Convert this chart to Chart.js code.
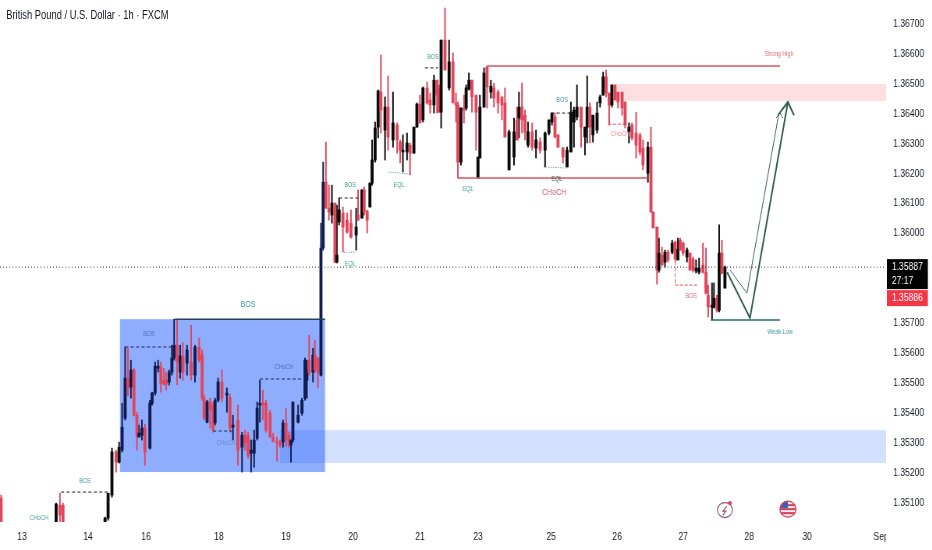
<!DOCTYPE html>
<html>
<head>
<meta charset="utf-8">
<title>GBPUSD 1h</title>
<script src="https://cdn.jsdelivr.net/npm/chart.js@4/dist/chart.umd.min.js"></script>
<style>
  html, body { margin: 0; background: #fff; overflow: hidden; width: 932px; height: 550px; }
  /* the source screenshot is squeezed sideways, so the whole drawing is too */
  #wrap { position: relative; width: 1195px; height: 550px; transform: scaleX(0.78); transform-origin: left top; }
  #chart { display: block; }
  #title { position: absolute; left: 8px; top: 8px; font: 12px "Liberation Sans", sans-serif; color: #131722; }
</style>
</head>
<body>
<div id="wrap">
  <div id="title">British Pound / U.S. Dollar · 1h · FXCM</div>
  <canvas id="chart" width="1195" height="550"></canvas>
</div>
<script>
// bar time in hours from the left edge of the chart
const times = [0.4,20.4,21.8,22.9,38.2,39.3,40.7,42.2,43.3,44.4,45.5,46.5,47.6,48.7,49.8,50.5,51.6,52.7,54.5,55.3,56.4,57.5,58.5,59.6,60.4,61.5,62.5,63.3,64.4,65.5,66.5,68,69.5,70.9,72.4,73.5,74.2,75.3,76.4,77.5,78.2,79.3,80.7,82.5,83.6,84.7,86.5,88,89.1,90.2,91.3,92.4,93.5,94.5,95.6,96.7,98.2,99.3,100.7,101.8,102.9,104,105.1,105.8,106.5,108.4,109.8,110.9,111.6,112.4,113.8,114.5,115.6,116.7,117.5,118.5,119.6,120.7,121.8,122.5,123.3,124.7,126.2,127.6,129.5,130.2,131.6,132.4,133.5,134.5,135.3,136.4,137.5,138.5,140,141.1,142.9,144.4,145.5,146.5,148,149.1,150.5,151.6,152.7,153.8,155.3,156.4,157.8,158.9,159.6,160.4,161.8,163.3,164.7,165.8,166.5,167.6,168.7,169.5,170.5,171.6,173.1,173.8,174.5,176,177.1,178.5,179.6,181.1,182.5,183.6,185.1,186.9,188,188.7,189.8,190.9,192,193.5,194.9,196.4,198.2,199.6,200.7,201.8,202.9,204.7,206.2,207.6,208.7,209.8,211.3,212.7,213.5,214.5,215.6,217.1,218.2,219.3,220.4,221.5,222.5,223.6,224.7,226.2,227.3,228.7,229.8,231.3,232.7,233.8,235.6,236.7,237.5,238.9,239.6,240.7,241.8,242.9,244.4,245.5,246.5,247.3,248.4,249.8,250.9,252,253.1,254.2,255.6,256.7,257.5,258.9,259.6,260.7,261.5,262.5,263.6];

const opens = [1.35115,1.35035,1.35091,1.35091,1.35024,1.35048,1.35125,1.35269,1.35235,1.35275,1.35382,1.35516,1.35486,1.35543,1.35392,1.35319,1.35325,1.35349,1.35282,1.35432,1.35466,1.35549,1.35553,1.35509,1.35509,1.35503,1.35536,1.35583,1.35626,1.35536,1.35590,1.35566,1.35570,1.35526,1.35620,1.35593,1.35449,1.35369,1.35436,1.35426,1.35366,1.35442,1.35503,1.35459,1.35452,1.35352,1.35376,1.35285,1.35325,1.35325,1.35265,1.35265,1.35315,1.35426,1.35432,1.35432,1.35399,1.35319,1.35305,1.35299,1.35302,1.35366,1.35325,1.35292,1.35309,1.35369,1.35399,1.35449,1.35509,1.35576,1.35536,1.35593,1.35583,1.35526,1.35951,1.36171,1.36084,1.36061,1.36101,1.35904,1.36038,1.36068,1.36044,1.36034,1.35994,1.36061,1.36051,1.36145,1.36074,1.36088,1.36168,1.36245,1.36355,1.36472,1.36345,1.36422,1.36312,1.36362,1.36305,1.36272,1.36272,1.36295,1.36268,1.36355,1.36432,1.36379,1.36486,1.36446,1.36429,1.36512,1.36486,1.36405,1.36646,1.36486,1.36573,1.36436,1.36429,1.36238,1.36419,1.36419,1.36482,1.36512,1.36462,1.36185,1.36252,1.36422,1.36556,1.36472,1.36486,1.36472,1.36456,1.36436,1.36212,1.36255,1.36379,1.36385,1.36422,1.36395,1.36295,1.36339,1.36285,1.36305,1.36278,1.36335,1.36372,1.36389,1.36329,1.36285,1.36222,1.36272,1.36372,1.36389,1.36422,1.36322,1.36355,1.36422,1.36329,1.36345,1.36436,1.36462,1.36523,1.36469,1.36429,1.36496,1.36472,1.36472,1.36439,1.36339,1.36362,1.36335,1.36329,1.36285,1.36201,1.36288,1.36071,1.36021,1.35877,1.35927,1.35904,1.35937,1.35937,1.35971,1.35911,1.35977,1.35967,1.35921,1.35934,1.35914,1.35874,1.35870,1.35894,1.35870,1.35793,1.35753,1.35753,1.35783,1.35743,1.35934,1.35817];

const closes = [1.35035,1.35095,1.35058,1.35035,1.35048,1.35131,1.35269,1.35235,1.35285,1.35352,1.35516,1.35483,1.35543,1.35392,1.35325,1.35332,1.35349,1.35269,1.35432,1.35466,1.35556,1.35556,1.35499,1.35496,1.35496,1.35536,1.35583,1.35626,1.35570,1.35590,1.35536,1.35610,1.35526,1.35620,1.35576,1.35449,1.35382,1.35436,1.35409,1.35342,1.35442,1.35503,1.35449,1.35466,1.35349,1.35359,1.35275,1.35325,1.35299,1.35258,1.35275,1.35309,1.35416,1.35432,1.35426,1.35342,1.35319,1.35305,1.35299,1.35292,1.35366,1.35309,1.35292,1.35309,1.35436,1.35392,1.35442,1.35576,1.35543,1.35533,1.35593,1.35543,1.35533,1.35951,1.36171,1.36084,1.36071,1.36101,1.35904,1.35927,1.36078,1.36021,1.36004,1.35987,1.36021,1.36044,1.36145,1.36071,1.36044,1.36168,1.36245,1.36352,1.36476,1.36412,1.36422,1.36322,1.36369,1.36312,1.36278,1.36278,1.36302,1.36268,1.36355,1.36432,1.36369,1.36486,1.36436,1.36429,1.36512,1.36462,1.36405,1.36646,1.36546,1.36573,1.36436,1.36429,1.36238,1.36419,1.36412,1.36486,1.36512,1.36456,1.36405,1.36255,1.36422,1.36536,1.36489,1.36492,1.36452,1.36436,1.36429,1.36322,1.36339,1.36339,1.36312,1.36422,1.36379,1.36339,1.36339,1.36288,1.36312,1.36278,1.36335,1.36379,1.36402,1.36322,1.36288,1.36255,1.36278,1.36405,1.36412,1.36422,1.36355,1.36355,1.36422,1.36355,1.36395,1.36402,1.36456,1.36523,1.36469,1.36429,1.36496,1.36446,1.36439,1.36419,1.36362,1.36355,1.36319,1.36295,1.36272,1.36228,1.36288,1.36071,1.36018,1.35877,1.35934,1.35894,1.35937,1.35911,1.35967,1.35914,1.35947,1.35944,1.35934,1.35944,1.35877,1.35877,1.35884,1.35884,1.35870,1.35800,1.35753,1.35760,1.35783,1.35743,1.35934,1.35867,1.35887];

const highs = [1.35125,1.35098,1.35131,1.35098,1.35051,1.35131,1.35282,1.35275,1.35302,1.35432,1.35620,1.35616,1.35576,1.35549,1.35402,1.35359,1.35376,1.35362,1.35442,1.35469,1.35570,1.35576,1.35570,1.35549,1.35536,1.35543,1.35626,1.35713,1.35713,1.35626,1.35636,1.35626,1.35693,1.35626,1.35650,1.35610,1.35459,1.35442,1.35449,1.35436,1.35449,1.35516,1.35543,1.35483,1.35462,1.35392,1.35426,1.35335,1.35342,1.35335,1.35309,1.35342,1.35436,1.35509,1.35476,1.35442,1.35409,1.35332,1.35319,1.35309,1.35376,1.35416,1.35335,1.35309,1.35436,1.35426,1.35449,1.35583,1.35576,1.35660,1.35616,1.35643,1.35586,1.36034,1.36238,1.36305,1.36161,1.36161,1.36101,1.36094,1.36118,1.36088,1.36068,1.36078,1.36084,1.36145,1.36145,1.36155,1.36078,1.36168,1.36312,1.36372,1.36479,1.36596,1.36456,1.36526,1.36472,1.36369,1.36312,1.36329,1.36335,1.36302,1.36355,1.36436,1.36462,1.36489,1.36506,1.36469,1.36529,1.36512,1.36496,1.36646,1.36753,1.36646,1.36603,1.36469,1.36439,1.36419,1.36462,1.36496,1.36536,1.36512,1.36462,1.36255,1.36462,1.36553,1.36559,1.36512,1.36502,1.36479,1.36456,1.36486,1.36345,1.36385,1.36422,1.36472,1.36502,1.36412,1.36372,1.36369,1.36345,1.36319,1.36339,1.36379,1.36402,1.36402,1.36329,1.36288,1.36288,1.36439,1.36422,1.36496,1.36422,1.36355,1.36526,1.36436,1.36395,1.36439,1.36462,1.36539,1.36546,1.36469,1.36496,1.36496,1.36472,1.36472,1.36439,1.36369,1.36369,1.36405,1.36335,1.36312,1.36305,1.36355,1.36071,1.36021,1.35984,1.35954,1.35944,1.35944,1.35977,1.35974,1.35984,1.35984,1.35971,1.35951,1.35934,1.35921,1.35911,1.35917,1.35967,1.35951,1.35827,1.35834,1.35834,1.35793,1.36028,1.35977,1.35891];

const lows = [1.35024,1.35024,1.35024,1.35024,1.35024,1.35041,1.35118,1.35202,1.35232,1.35269,1.35376,1.35456,1.35449,1.35389,1.35275,1.35319,1.35309,1.35225,1.35279,1.35426,1.35459,1.35536,1.35469,1.35493,1.35476,1.35493,1.35526,1.35576,1.35493,1.35516,1.35509,1.35526,1.35509,1.35503,1.35570,1.35442,1.35376,1.35366,1.35349,1.35335,1.35359,1.35436,1.35436,1.35402,1.35335,1.35309,1.35225,1.35202,1.35275,1.35248,1.35202,1.35218,1.35309,1.35369,1.35376,1.35335,1.35319,1.35302,1.35238,1.35285,1.35285,1.35289,1.35285,1.35235,1.35302,1.35366,1.35392,1.35442,1.35449,1.35526,1.35503,1.35536,1.35483,1.35523,1.35944,1.36084,1.36044,1.36034,1.35901,1.35901,1.36028,1.35937,1.36001,1.35984,1.35944,1.36044,1.36051,1.36061,1.36001,1.36088,1.36161,1.36238,1.36319,1.36335,1.36245,1.36278,1.36288,1.36268,1.36235,1.36205,1.36245,1.36195,1.36268,1.36355,1.36369,1.36372,1.36432,1.36402,1.36402,1.36402,1.36405,1.36352,1.36546,1.36479,1.36436,1.36372,1.36185,1.36228,1.36369,1.36412,1.36479,1.36405,1.36278,1.36185,1.36252,1.36422,1.36419,1.36452,1.36422,1.36402,1.36379,1.36322,1.36212,1.36228,1.36312,1.36319,1.36335,1.36312,1.36288,1.36278,1.36252,1.36268,1.36222,1.36329,1.36362,1.36319,1.36288,1.36235,1.36222,1.36272,1.36288,1.36379,1.36288,1.36262,1.36302,1.36302,1.36305,1.36335,1.36422,1.36462,1.36456,1.36362,1.36422,1.36446,1.36419,1.36395,1.36352,1.36302,1.36312,1.36252,1.36262,1.36212,1.36171,1.36071,1.36018,1.35830,1.35870,1.35894,1.35887,1.35904,1.35931,1.35907,1.35911,1.35944,1.35927,1.35904,1.35877,1.35870,1.35867,1.35864,1.35867,1.35797,1.35720,1.35710,1.35750,1.35737,1.35737,1.35864,1.35817];

const xTickPositions = [8,32,53.1,79.6,104,128.4,152.7,173.8,200.4,224.4,248.4,272.4,293.5,320.4];
const xTickLabels = ['13','14','16','18','19','20','21','23','25','26','27','28','30','Sep'];
const priceTicks = [1.351,1.352,1.353,1.354,1.355,1.356,1.357,1.36,1.361,1.362,1.363,1.364,1.365,1.366,1.367];

const lastPrice = 1.35887;
const bidPrice = 1.35886;
const countdown = '27:17';

// drawn analysis, in [time, price] units
const zones = [
  { t1: 43.6, t2: 118.2, top: 1.35713, bottom: 1.35202, color: 'rgba(41,98,255,0.52)' },
  { t1: 101.8, t2: 322.2, top: 1.35342, bottom: 1.35232, color: 'rgba(41,98,255,0.2)' },
  { t1: 223.3, t2: 322.2, top: 1.36499, bottom: 1.36442, color: 'rgba(242,54,69,0.16)' }
];

const segments = [
  // structure lines
  { pts: [[63.6,1.35713],[118.2,1.35713]], color: '#26405f', width: 1.5 },
  { pts: [[177.1,1.36559],[283.6,1.36559]], color: '#d9545f', width: 1.5 },
  { pts: [[166.5,1.36185],[235.6,1.36185]], color: '#d9545f', width: 1.5 },
  { pts: [[258.5,1.3571],[283.6,1.3571]], color: '#1f6f6a', width: 1.5 },
  // BOS / CHoCH dashes
  { pts: [[22.2,1.35135],[39.3,1.35135]], color: '#222', width: 1, dash: [4,3] },
  { pts: [[45.5,1.3562],[62.5,1.3562]], color: '#1d2b55', width: 1, dash: [4,3] },
  { pts: [[77.5,1.35339],[84.4,1.35339]], color: '#1d2b55', width: 1, dash: [4,3] },
  { pts: [[94.5,1.35513],[110.5,1.35513]], color: '#1d2b55', width: 1, dash: [4,3] },
  { pts: [[123.3,1.36118],[130.2,1.36118]], color: '#222', width: 1, dash: [4,3] },
  { pts: [[154.5,1.36553],[159.3,1.36553]], color: '#222', width: 1, dash: [4,3] },
  { pts: [[200.4,1.36402],[207.6,1.36402]], color: '#222', width: 1, dash: [4,3] },
  { pts: [[221.5,1.36469],[221.5,1.36365],[226.9,1.36365]], color: '#d9545f', width: 1, dash: [4,2] },
  { pts: [[245.5,1.35927],[245.5,1.35827],[253.5,1.35827]], color: '#d9545f', width: 1, dash: [4,2] },
  // EQL dots
  { pts: [[125.1,1.35937],[129.5,1.35937]], color: '#3b6e6a', width: 1, dash: [1,2] },
  { pts: [[141.1,1.36205],[149.1,1.36198]], color: '#3b6e6a', width: 1, dash: [1,2] },
  { pts: [[197.8,1.36222],[206.2,1.36218]], color: '#3b6e6a', width: 1, dash: [1,2] },
  // projected path
  { pts: [[264.4,1.3587],[272.7,1.35717],[286.5,1.36439]], color: '#2e5d50', width: 2 },
  { pts: [[282.9,1.36395],[286.5,1.36439],[288.7,1.36395]], color: '#2e5d50', width: 2 },
  { pts: [[265.5,1.35877],[271.6,1.358],[283.1,1.36395]], color: '#2e5d50', width: 1 },
  { pts: [[282.2,1.36385],[283.6,1.36402],[284.7,1.36385]], color: '#2e5d50', width: 1 }
];

const notes = [
  { text: 'CHoCH', t: 14.2, p: 1.35048, color: '#3b9b94', size: 7 },
  { text: 'BOS', t: 30.9, p: 1.35172, color: '#3b9b94', size: 7 },
  { text: 'BOS', t: 90.2, p: 1.35763, color: '#3b9b94', size: 9 },
  { text: 'BOS', t: 54.2, p: 1.35663, color: '#4d6fb0', size: 7 },
  { text: 'CHoCH', t: 82.2, p: 1.35299, color: '#6a86c8', size: 7 },
  { text: 'CHoCH', t: 103.3, p: 1.35553, color: '#4d6fb0', size: 7 },
  { text: 'BOS', t: 127.3, p: 1.36161, color: '#3b9b94', size: 7 },
  { text: 'EQL', t: 127.3, p: 1.35897, color: '#3b9b94', size: 7 },
  { text: 'EQL', t: 145.1, p: 1.36161, color: '#3b9b94', size: 7 },
  { text: 'BOS', t: 157.5, p: 1.36589, color: '#3b9b94', size: 7 },
  { text: 'EQL', t: 170.2, p: 1.36148, color: '#3b9b94', size: 7 },
  { text: 'EQL', t: 202.5, p: 1.36181, color: '#2d5f5c', size: 7 },
  { text: 'BOS', t: 204.4, p: 1.36446, color: '#3b9b94', size: 7 },
  { text: 'CHoCH', t: 201.5, p: 1.36135, color: '#d9545f', size: 9 },
  { text: 'CHoCH', t: 225.5, p: 1.36332, color: '#e88a92', size: 7 },
  { text: 'BOS', t: 251.3, p: 1.3579, color: '#e06a75', size: 7 },
  { text: 'Strong High', t: 283.3, p: 1.36599, color: '#e06a75', size: 7 },
  { text: 'Weak Low', t: 283.6, p: 1.3567, color: '#3b9b94', size: 7 }
];

const squeeze = 0.78;
const upColor = '#0a0a0a';
const upColorOnZone = '#101c50';
const downColor = '#e2455a';
const barColors = closes.map((c, i) => {
  if (c < opens[i]) return downColor;
  return times[i] >= zones[0].t1 && times[i] <= zones[0].t2 ? upColorOnZone : upColor;
});
const labelFont = '"Liberation Sans", sans-serif';

function circle(ctx, cx, cy, r) {
  ctx.beginPath();
  ctx.ellipse(cx, cy, r / squeeze, r, 0, 0, Math.PI * 2);
}

// zones under the candles; lines, labels and price tags on top of them
const drawingsPlugin = {
  id: 'drawings',
  beforeDatasetsDraw(chart) {
    const { ctx, scales: { x, y } } = chart;
    ctx.save();
    zones.forEach(z => {
      ctx.fillStyle = z.color;
      const x1 = x.getPixelForValue(z.t1);
      const y1 = y.getPixelForValue(z.top);
      ctx.fillRect(x1, y1, x.getPixelForValue(z.t2) - x1, y.getPixelForValue(z.bottom) - y1);
    });
    ctx.restore();
  },
  afterDatasetsDraw(chart) {
    const { ctx, chartArea, scales: { x, y } } = chart;
    ctx.save();
    ctx.beginPath();
    ctx.rect(chartArea.left, chartArea.top, chartArea.width, chartArea.height);
    ctx.clip();

    // last price dotted line
    const lastY = y.getPixelForValue(lastPrice);
    ctx.strokeStyle = '#131722';
    ctx.lineWidth = 1;
    ctx.setLineDash([1, 3]);
    ctx.beginPath();
    ctx.moveTo(chartArea.left, lastY);
    ctx.lineTo(chartArea.right, lastY);
    ctx.stroke();

    segments.forEach(s => {
      ctx.strokeStyle = s.color;
      ctx.lineWidth = s.width;
      ctx.setLineDash(s.dash || []);
      ctx.beginPath();
      s.pts.forEach((pt, i) => {
        const px = x.getPixelForValue(pt[0]);
        const py = y.getPixelForValue(pt[1]);
        if (i === 0) ctx.moveTo(px, py); else ctx.lineTo(px, py);
      });
      ctx.stroke();
    });
    ctx.setLineDash([]);

    ctx.textAlign = 'center';
    ctx.textBaseline = 'middle';
    notes.forEach(n => {
      ctx.fillStyle = n.color;
      ctx.font = n.size + 'px ' + labelFont;
      ctx.fillText(n.text, x.getPixelForValue(n.t), y.getPixelForValue(n.p));
    });

    // event icons near the time axis
    const boltX = x.getPixelForValue(263.6);
    const boltY = y.getPixelForValue(1.35075);
    const sx = 1 / squeeze;
    ctx.strokeStyle = '#8a5a78';
    ctx.lineWidth = 1.2;
    circle(ctx, boltX, boltY, 7.5);
    ctx.stroke();
    ctx.beginPath();
    ctx.moveTo(boltX + 2 * sx, boltY - 4);
    ctx.lineTo(boltX - 2 * sx, boltY + 1);
    ctx.lineTo(boltX + 1 * sx, boltY + 1);
    ctx.lineTo(boltX - 2 * sx, boltY + 5);
    ctx.stroke();
    ctx.fillStyle = '#e2455a';
    circle(ctx, boltX + 5 * sx, boltY - 7, 2);
    ctx.fill();

    const flagX = x.getPixelForValue(286.5);
    const flagY = y.getPixelForValue(1.35078);
    ctx.fillStyle = '#e8eef8';
    circle(ctx, flagX, flagY, 8);
    ctx.fill();
    ctx.save();
    ctx.clip();
    ctx.fillStyle = '#d9404f';
    [-5, -1, 3].forEach(dy => ctx.fillRect(flagX - 8 * sx, flagY + dy, 16 * sx, 2));
    ctx.fillStyle = '#3c62b8';
    ctx.fillRect(flagX - 8 * sx, flagY - 8, 8 * sx, 7);
    ctx.restore();
    ctx.strokeStyle = '#d9404f';
    ctx.lineWidth = 1.2;
    circle(ctx, flagX, flagY, 8);
    ctx.stroke();
    ctx.restore();

    // price tags on the axis
    ctx.save();
    const tagX = chartArea.right + 1;
    ctx.fillStyle = '#000';
    ctx.fillRect(tagX, lastY - 8, 41 * sx, 30);
    ctx.fillStyle = '#f23645';
    ctx.fillRect(tagX, lastY + 23, 41 * sx, 16);
    ctx.fillStyle = '#fff';
    ctx.font = '11px ' + labelFont;
    ctx.textAlign = 'left';
    ctx.textBaseline = 'middle';
    ctx.fillText(lastPrice.toFixed(5), tagX + 5 * sx, lastY);
    ctx.fillText(countdown, tagX + 5 * sx, lastY + 14);
    ctx.fillText(bidPrice.toFixed(5), tagX + 5 * sx, lastY + 31);
    ctx.restore();
  },
  afterDraw(chart) {
    // the Sep label is cut off by the price axis
    const { ctx, chartArea } = chart;
    ctx.fillStyle = '#fff';
    ctx.fillRect(chartArea.right, chartArea.bottom, chart.width - chartArea.right, chart.height - chartArea.bottom);
  }
};

new Chart(document.getElementById('chart'), {
  type: 'bar',
  data: {
    datasets: [
      {
        label: 'Wick',
        data: times.map((t, i) => ({ x: t, y: [lows[i], highs[i]] })),
        backgroundColor: barColors,
        barThickness: 1.3,
        grouped: false,
        order: 2
      },
      {
        label: 'Body',
        data: times.map((t, i) => ({ x: t, y: [opens[i], closes[i]] })),
        backgroundColor: barColors,
        barThickness: 3.2,
        minBarLength: 1,
        grouped: false,
        order: 1
      }
    ]
  },
  options: {
    responsive: false,
    animation: false,
    layout: { padding: 0 },
    plugins: { legend: { display: false }, tooltip: { enabled: false } },
    scales: {
      x: {
        type: 'linear',
        offset: false,
        min: 0,
        max: 322.2,
        grid: { display: false },
        border: { display: false },
        afterFit: axis => { axis.height = 28; axis.paddingLeft = 0; axis.paddingRight = 0; },
        afterBuildTicks: axis => { axis.ticks = xTickPositions.map(value => ({ value })); },
        ticks: {
          autoSkip: false,
          maxRotation: 0,
          padding: 0,
          color: '#131722',
          font: { family: labelFont, size: 11 },
          callback: value => xTickLabels[xTickPositions.indexOf(value)]
        }
      },
      y: {
        position: 'right',
        min: 1.35035,
        max: 1.36780,
        grid: { display: false },
        border: { display: false },
        afterFit: axis => { axis.width = 59; axis.paddingTop = 0; axis.paddingBottom = 0; },
        afterBuildTicks: axis => { axis.ticks = priceTicks.map(value => ({ value })); },
        ticks: {
          padding: 1,
          color: '#131722',
          font: { family: labelFont, size: 11 },
          callback: value => value.toFixed(5)
        }
      }
    }
  },
  plugins: [drawingsPlugin]
});
</script>
</body>
</html>
